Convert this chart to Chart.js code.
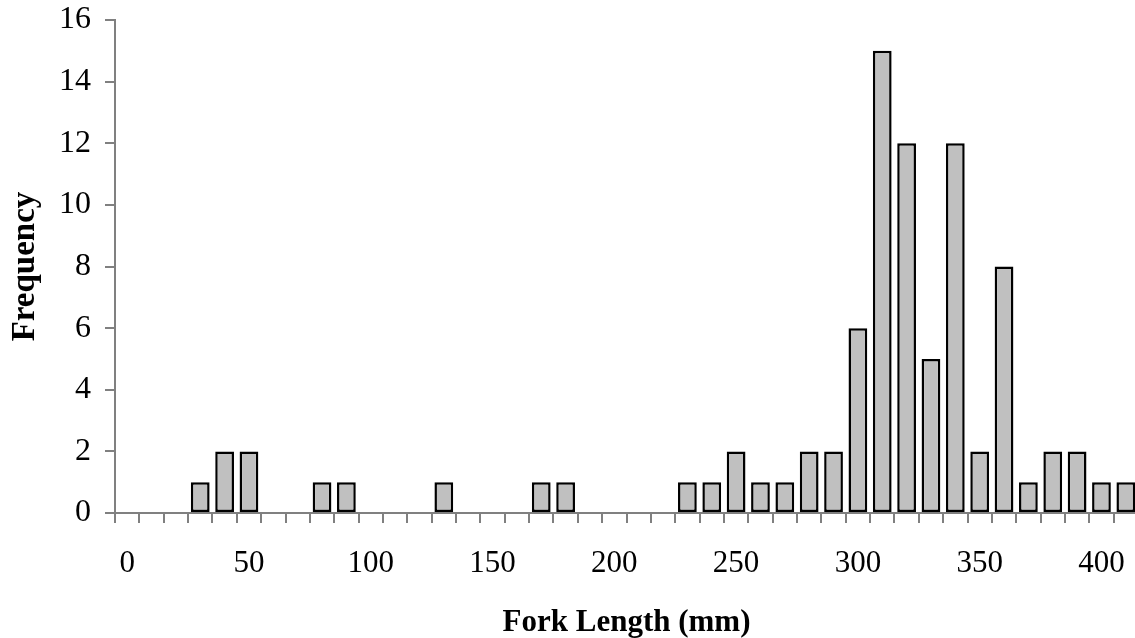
<!DOCTYPE html>
<html>
<head>
<meta charset="utf-8">
<script src="https://cdn.jsdelivr.net/npm/chart.js@4/dist/chart.umd.min.js"></script>
<style>
  html, body { margin: 0; padding: 0; background: #fff; overflow: hidden; }
  #wrap { position: relative; width: 1138px; height: 638px; }
</style>
</head>
<body>
<div id="wrap"><canvas id="c"></canvas></div>
<script>
// Fork length bins (mm)
const forkLengthBins = [0, 10, 20, 30, 40, 50, 60, 70, 80, 90, 100, 110, 120, 130, 140, 150, 160, 170, 180, 190, 200,
  210, 220, 230, 240, 250, 260, 270, 280, 290, 300, 310, 320, 330, 340, 350, 360, 370, 380, 390, 400, 410];
// Frequency per bin
const frequency = [0, 0, 0, 1, 2, 2, 0, 0, 1, 1, 0, 0, 0, 1, 0, 0, 0, 1, 1, 0, 0,
  0, 0, 1, 1, 2, 1, 1, 2, 2, 6, 15, 12, 5, 12, 2, 8, 1, 2, 2, 1, 1];
// Labelled x ticks
const xTickLabels = ['0', '50', '100', '150', '200', '250', '300', '350', '400'];
// Y ticks
const yMin = 0, yMax = 16, yStep = 2;

const serif = '"Liberation Serif", "Times New Roman", serif';
const axisGrey = '#808080';

new Chart(document.getElementById('c'), {
  type: 'bar',
  data: {
    labels: forkLengthBins.map(String),
    datasets: [{
      data: frequency,
      backgroundColor: '#c0c0c0',
      borderColor: '#000000',
      borderWidth: 2.5,
      borderSkipped: false,
      barPercentage: 0.77,
      categoryPercentage: 1.0
    }]
  },
  options: {
    responsive: true,
    maintainAspectRatio: false,
    animation: false,
    layout: { padding: { top: 20, left: 0, right: 0, bottom: 0 } },
    plugins: { legend: { display: false }, tooltip: { enabled: false } },
    scales: {
      x: {
        offset: true,
        grid: { display: true, offset: true, drawOnChartArea: false, drawTicks: true, tickLength: 10, color: axisGrey, lineWidth: 2 },
        border: { display: true, color: axisGrey, width: 2 },
        ticks: {
          autoSkip: false, maxRotation: 0, minRotation: 0, padding: 22,
          color: '#000', font: { family: serif, size: 31 },
          callback: function (value) {
            const lab = this.getLabelForValue(value);
            return xTickLabels.includes(lab) ? lab : '';
          }
        },
        title: { display: true, text: 'Fork Length (mm)', color: '#000', font: { family: serif, size: 31, weight: 'bold', lineHeight: 1.0 }, padding: { top: 0, bottom: 0 } },
        afterFit: function (s) { s.height = 125; s.paddingLeft = 0; s.paddingRight = 0; }
      },
      y: {
        min: yMin, max: yMax,
        grid: { display: true, drawOnChartArea: false, drawTicks: true, tickLength: 10, color: axisGrey, lineWidth: 2 },
        border: { display: true, color: axisGrey, width: 2 },
        ticks: { stepSize: yStep, padding: 14, color: '#000', font: { family: serif, size: 32 } },
        title: { display: true, text: 'Frequency', color: '#000', font: { family: serif, size: 33, weight: 'bold', lineHeight: 1.2 }, padding: { top: 6, bottom: 0 } },
        afterFit: function (s) { s.width = 115; s.paddingTop = 0; s.paddingBottom = 0; }
      }
    }
  }
});
</script>
</body>
</html>
